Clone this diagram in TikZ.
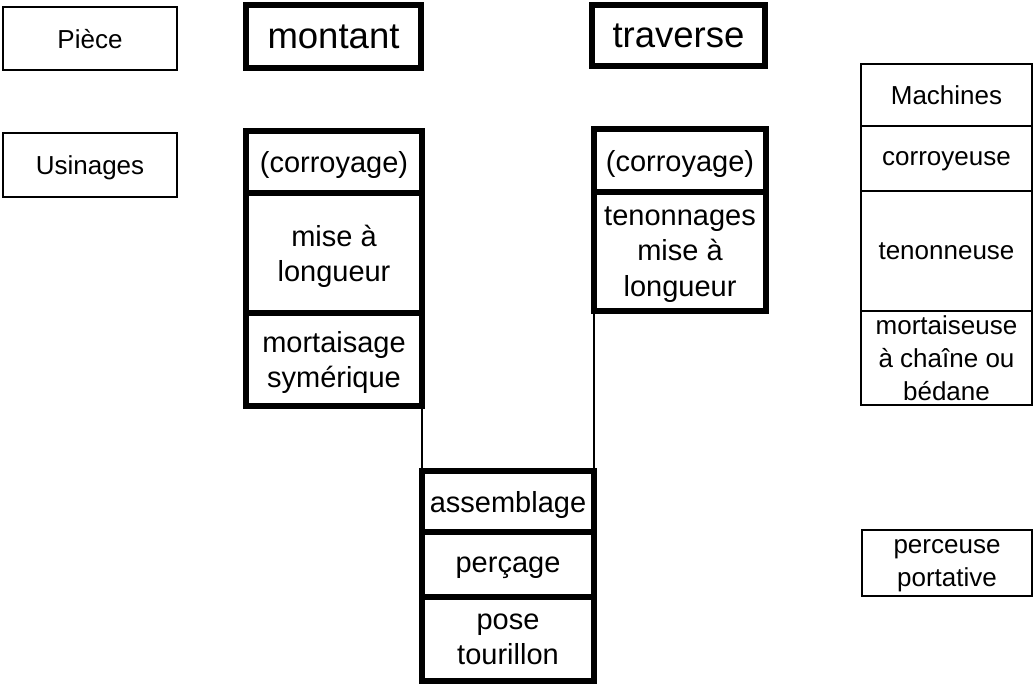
\documentclass[tikz,border=0pt]{standalone}
\usepackage{fontspec}
\setmainfont{Liberation Sans}
\tikzset{
  cellbase/.style={draw, rectangle, inner sep=0pt, outer sep=0pt, align=center, text depth=0pt},
  thickcell/.style={cellbase, line width=3.8pt},
  thincell/.style={cellbase, line width=2pt},
  bigfont/.style={font=\fontsize{27.4}{32}\selectfont},
  midfont/.style={font=\fontsize{21.75}{26.5}\selectfont},
  smallfont/.style={font=\fontsize{19.5}{24.5}\selectfont},
  conn/.style={line width=1.6pt}
}
\begin{document}
\begin{tikzpicture}[x=0.75pt,y=-0.75pt]
\useasboundingbox (0,0) rectangle (1035,686);
% left labels
\node[thincell, smallfont, minimum width=130.5pt, minimum height=47.25pt] (piece) at (90,38.5) {Pièce};
\node[thincell, smallfont, minimum width=130.5pt, minimum height=48pt] (usinages) at (90,165) {Usinages};
% titles
\node[thickcell, bigfont, minimum width=131.25pt, minimum height=47.25pt] (montant) at (333.5,36.5) {montant};
\node[thickcell, bigfont, minimum width=129.75pt, minimum height=45.75pt] (traverse) at (678.5,35.5) {traverse};
% montant column
\node[thickcell, midfont, minimum width=132pt, minimum height=46.5pt] (corroyM) at (334,162) {(corroyage)};
\node[thickcell, midfont, minimum width=132pt, minimum height=90pt] (miseM) at (334,253) {mise à\\longueur};
\node[thickcell, midfont, minimum width=132pt, minimum height=69.75pt] (mortM) at (334,359.5) {mortaisage\\symérique};
% traverse column
\node[thickcell, midfont, minimum width=129pt, minimum height=47.25pt] (corroyT) at (680,160.5) {(corroyage)};
\node[thickcell, midfont, minimum width=129pt, minimum height=89.25pt] (tenonT) at (680,251.5) {tenonnages\\mise à\\longueur};
% assemblage column
\node[thickcell, midfont, minimum width=129pt, minimum height=45.75pt] (assemb) at (508,501.5) {assemblage};
\node[thickcell, midfont, minimum width=129pt, minimum height=48.75pt] (percage) at (508,564.5) {perçage};
\node[thickcell, midfont, minimum width=129pt, minimum height=63pt] (pose) at (508,639) {pose\\tourillon};
% machines column
\node[thincell, smallfont, minimum width=128.25pt, minimum height=46.5pt] (machines) at (946.5,95) {Machines};
\node[thincell, smallfont, minimum width=128.25pt, minimum height=48.75pt] (corroyeuse) at (946.5,158.5) {corroyeuse};
\node[thincell, smallfont, minimum width=128.25pt, minimum height=90pt] (tenonneuse) at (946.5,251) {tenonneuse};
\node[thincell, smallfont, minimum width=128.25pt, minimum height=70.5pt] (mortaiseuse) at (946.5,358) {mortaiseuse\\à chaîne ou\\bédane};
\node[thincell, smallfont, minimum width=127.5pt, minimum height=49.5pt] (perceuse) at (947,563) {perceuse\\portative};
% connectors
\draw[conn] (mortM.south east) -- (assemb.north west);
\draw[conn] (tenonT.south west) -- (assemb.north east);
\end{tikzpicture}
\end{document}
